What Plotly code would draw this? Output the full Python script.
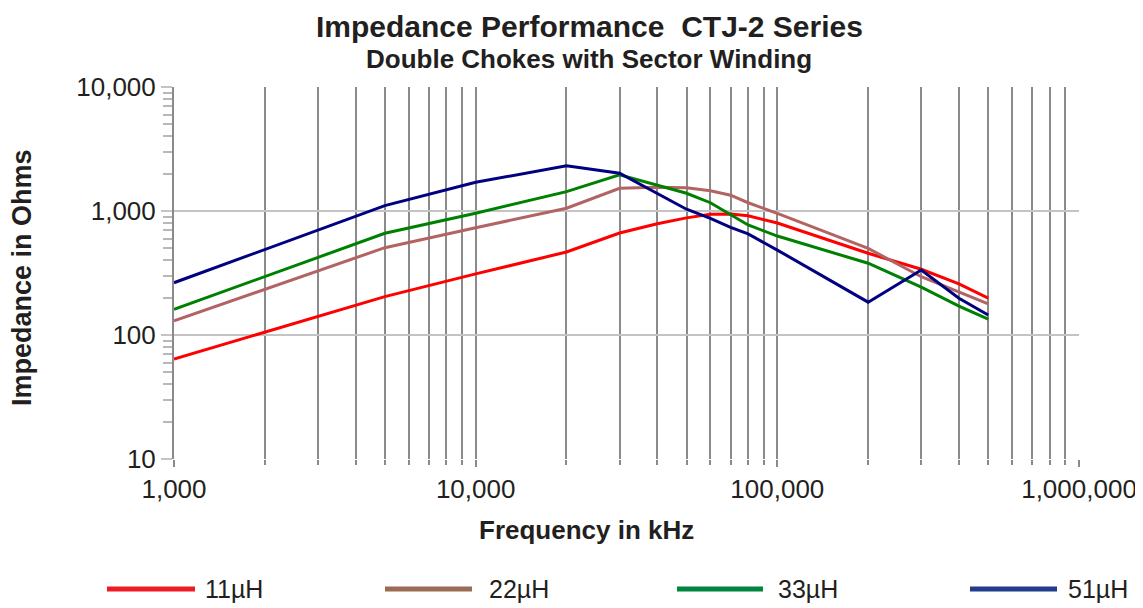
import plotly.graph_objects as go

# ---- data ----
freq_khz = [1000, 5000, 10000, 20000, 30000, 40000, 50000, 60000, 70000, 80000,
            100000, 200000, 300000, 400000, 500000]
z_11uH = [64, 204, 311, 467, 665, 790, 880, 942, 946, 914, 800, 456, 339, 258, 198]
z_22uH = [130, 506, 733, 1052, 1524, 1552, 1543, 1458, 1340, 1166, 957, 500, 295, 223, 178]
z_33uH = [161, 661, 960, 1432, 1960, 1622, 1390, 1166, 929, 771, 628, 379, 243, 171, 134]
z_51uH = [264, 1104, 1703, 2319, 2015, 1390, 1033, 873, 739, 653, 484, 184, 334, 198, 145]

series_names = ["11µH", "22µH", "33µH", "51µH"]
line_colors = ["#FF0000", "#B26464", "#008000", "#000080"]
legend_colors = ["#ED1C24", "#9C6B55", "#00853E", "#233D8C"]

x_tickvals = [1000, 10000, 100000, 1000000]
x_ticktext = ["1,000", "10,000", "100,000", "1,000,000"]
y_tickvals = [10, 100, 1000, 10000]
y_ticktext = ["10", "100", "1,000", "10,000"]

# ---- layout geometry (page has an 8px body margin) ----
OFF = 8
W, H = 1143 - OFF, 608 - OFF
L, T = 174 - OFF, 87 - OFF
R, B = W - (1079 - OFF), H - (459 - OFF)
PW, PH = W - L - R, H - T - B


def px(x):
    return (x - OFF - L) / PW


def py(y):
    return (H - B - (y - OFF)) / PH


FONT = "Liberation Sans, Arial, sans-serif"
TXT = "#231F20"

fig = go.Figure()
for name, vals, col in zip(series_names, [z_11uH, z_22uH, z_33uH, z_51uH], line_colors):
    fig.add_trace(go.Scatter(x=freq_khz, y=vals, mode="lines", name=name,
                             line=dict(color=col, width=3), showlegend=False))

decades_x = [1000, 10000, 100000]
decades_y = [10, 100, 1000]
minor_x = [d * k for d in decades_x for k in range(2, 10)]
minor_y = [d * k for d in decades_y for k in range(2, 10)]

fig.update_xaxes(type="log", range=[3, 6], tickvals=x_tickvals, ticktext=x_ticktext,
                 showgrid=True, gridcolor="#8A8A8A", gridwidth=1.5,
                 ticks="outside", ticklen=7, tickcolor="#8A8A8A", tickwidth=1.5,
                 tickfont=dict(family=FONT, size=26, color=TXT),
                 showline=False, zeroline=False, automargin=False,
                 ticklabeloverflow="allow",
                 minor=dict(tickmode="array", tickvals=minor_x, showgrid=True,
                            gridcolor="#8A8A8A", gridwidth=1.5,
                            ticks="outside", ticklen=5, tickcolor="#8A8A8A"))
fig.update_yaxes(type="log", range=[1, 4], tickvals=y_tickvals, ticktext=y_ticktext,
                 showgrid=True, gridcolor="#C4C4C4", gridwidth=2,
                 ticks="outside", ticklen=11, tickcolor="#C4C4C4", tickwidth=2,
                 tickfont=dict(family=FONT, size=26, color=TXT),
                 showline=True, linecolor="#8A8A8A", linewidth=2, zeroline=False,
                 automargin=False,
                 minor=dict(tickmode="array", tickvals=minor_y, showgrid=False,
                            ticks="outside", ticklen=9, tickcolor="#B8B8B8", tickwidth=1.5))

annotations = [
    dict(text="<b>Impedance Performance  CTJ-2 Series</b>", x=px(589), y=py(8),
         yanchor="top", font=dict(family=FONT, size=30, color=TXT)),
    dict(text="<b>Double Chokes with Sector Winding</b>", x=px(589), y=py(59),
         yanchor="middle", font=dict(family=FONT, size=26, color=TXT)),
    dict(text="<b>Frequency in kHz</b>", x=px(586), y=py(530),
         yanchor="middle", font=dict(family=FONT, size=26, color=TXT)),
    dict(text="<b>Impedance in Ohms</b>", x=px(22), y=py(278), textangle=-90,
         yanchor="middle", font=dict(family=FONT, size=27, color=TXT)),
]
for a in annotations:
    a.update(xref="paper", yref="paper", showarrow=False, xanchor="center")

# legend drawn below the plot
legend_line_px = [(107, 195), (385, 472), (677, 763), (970, 1057)]
legend_text_px = [203, 487, 776, 1066]
shapes = []
for (x0, x1), tx, name, col in zip(legend_line_px, legend_text_px, series_names, legend_colors):
    shapes.append(dict(type="line", xref="paper", yref="paper", x0=px(x0), x1=px(x1),
                       y0=py(589), y1=py(589), line=dict(color=col, width=5)))
    annotations.append(dict(text=name, xref="paper", yref="paper", x=px(tx), y=py(589),
                            xanchor="left", yanchor="middle", showarrow=False,
                            font=dict(family=FONT, size=25, color=TXT)))

fig.update_layout(width=W, height=H, margin=dict(l=L, r=R, t=T, b=B, autoexpand=False),
                  paper_bgcolor="white", plot_bgcolor="white",
                  annotations=annotations, shapes=shapes, showlegend=False)

fig.write_html("out.html")
